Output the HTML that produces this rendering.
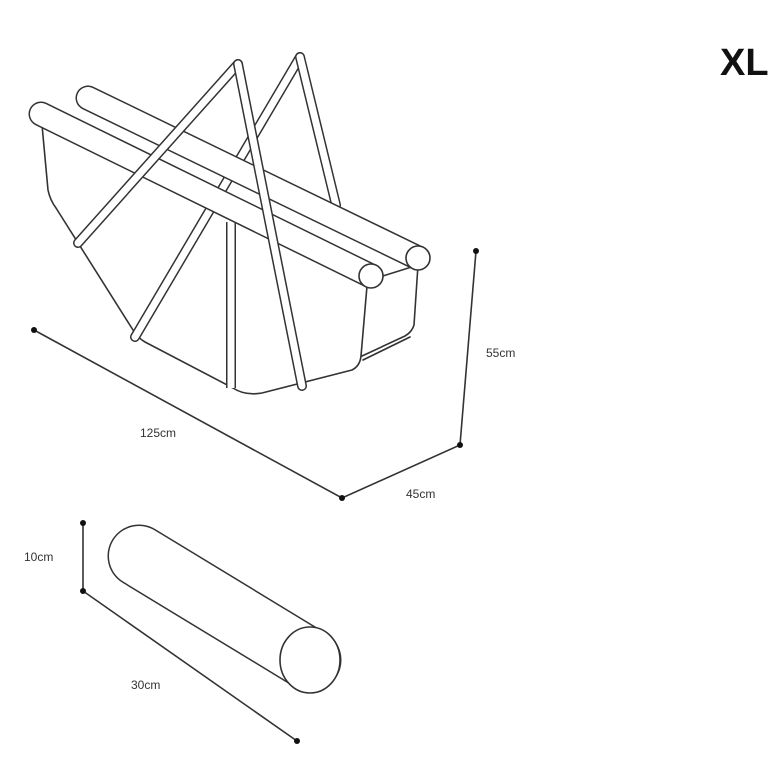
<!DOCTYPE html>
<html><head><style>
html,body{margin:0;padding:0;background:#fff;width:770px;height:770px;overflow:hidden}
svg{display:block}
text{font-family:"Liberation Sans",sans-serif;fill:#333}
</style></head><body>
<svg width="770" height="770" viewBox="0 0 770 770" xmlns="http://www.w3.org/2000/svg">
<g fill="none" stroke="#333" stroke-width="1.6" stroke-linejoin="round" stroke-linecap="round">
<path d="M42,125 L48,190 Q50,200 56,208 L133,330 Q138,338 145,342 L233,388 Q245,396 262,393 L352,370 Q360,366 361,356 L367,286 L370,280 L418,265 L414,325 Q412,332 405,336 L362,356" fill="#fff"/>
<line x1="363" y1="360" x2="410" y2="337"/>
</g>
<g stroke-linecap="round">
<line x1="300" y1="57" x2="135" y2="337" stroke="#333" stroke-width="10"/>
<line x1="300" y1="57" x2="135" y2="337" stroke="#fff" stroke-width="7"/>
<line x1="300" y1="57" x2="336" y2="205" stroke="#333" stroke-width="10"/>
<line x1="300" y1="57" x2="336" y2="205" stroke="#fff" stroke-width="7"/>
<line x1="231" y1="222" x2="231" y2="388" stroke="#333" stroke-width="10" stroke-linecap="butt"/>
<line x1="231" y1="222" x2="231" y2="388" stroke="#fff" stroke-width="7" stroke-linecap="butt"/>
<line x1="88" y1="98" x2="418" y2="258" stroke="#333" stroke-width="25"/>
<line x1="88" y1="98" x2="418" y2="258" stroke="#fff" stroke-width="22"/>
<line x1="41" y1="114" x2="371" y2="276" stroke="#333" stroke-width="25"/>
<line x1="41" y1="114" x2="371" y2="276" stroke="#fff" stroke-width="22"/>
<line x1="238" y1="64" x2="78" y2="243" stroke="#333" stroke-width="10"/>
<line x1="238" y1="64" x2="78" y2="243" stroke="#fff" stroke-width="7"/>
<line x1="238" y1="64" x2="302" y2="386" stroke="#333" stroke-width="10"/>
<line x1="238" y1="64" x2="302" y2="386" stroke="#fff" stroke-width="7"/>
</g>
<g fill="#fff" stroke="#333" stroke-width="1.6">
<ellipse cx="418" cy="258" rx="12" ry="12"/>
<ellipse cx="371" cy="276" rx="12" ry="12"/>
</g>
<g stroke="#333" stroke-width="1.6" fill="none">
<polyline points="34,330 342,498 460,445 476,251"/>
<polyline points="83,523 83,591 297,741"/>
</g>
<g fill="#111">
<circle cx="34" cy="330" r="3"/><circle cx="342" cy="498" r="3"/>
<circle cx="460" cy="445" r="3"/><circle cx="476" cy="251" r="3"/>
<circle cx="83" cy="523" r="3"/><circle cx="83" cy="591" r="3"/><circle cx="297" cy="741" r="3"/>
</g>
<g stroke-linecap="round">
<line x1="139" y1="556" x2="310" y2="660" stroke="#333" stroke-width="63"/>
<line x1="139" y1="556" x2="310" y2="660" stroke="#fff" stroke-width="60"/>
</g>
<ellipse cx="310" cy="660" rx="30" ry="33" fill="#fff" stroke="#333" stroke-width="1.6"/>
<text x="140" y="437" font-size="12">125cm</text>
<text x="406" y="498" font-size="12">45cm</text>
<text x="486" y="357" font-size="12">55cm</text>
<text x="24" y="561" font-size="12">10cm</text>
<text x="131" y="689" font-size="12">30cm</text>
<text x="720" y="75" font-size="38" font-weight="bold" style="fill:#111">XL</text>
</svg>
</body></html>
